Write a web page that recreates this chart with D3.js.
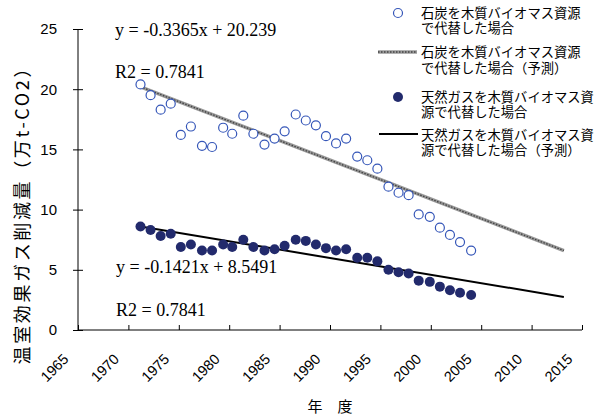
<!DOCTYPE html>
<html>
<head>
<meta charset="utf-8">
<script src="https://cdn.jsdelivr.net/npm/d3@7"></script>
<style>
  body { margin: 0; background: #fff; }
  svg { display: block; }
</style>
</head>
<body>
<script>
// years (points sit slightly off the integer ticks)
const years = [1971.2, 1972.2, 1973.2, 1974.2, 1975.2, 1976.2, 1977.3, 1978.3, 1979.4, 1980.3,
    1981.4, 1982.4, 1983.5, 1984.5, 1985.5, 1986.6, 1987.6, 1988.6, 1989.6, 1990.6,
    1991.6, 1992.7, 1993.7, 1994.7, 1995.8, 1996.8, 1997.8, 1998.8, 1999.9, 2000.9,
    2001.9, 2002.9, 2004.0];
const coal = [20.4, 19.5, 18.3, 18.8, 16.2, 16.9, 15.3, 15.2, 16.8, 16.3,
    17.8, 16.3, 15.4, 15.9, 16.5, 17.9, 17.4, 17.0, 16.1, 15.5,
    15.9, 14.4, 14.1, 13.4, 11.9, 11.4, 11.2, 9.6, 9.4, 8.5,
    7.9, 7.3, 6.6];
const gas = [8.6, 8.3, 7.8, 8.0, 6.9, 7.1, 6.6, 6.6, 7.1, 6.9,
    7.5, 6.9, 6.6, 6.7, 7.0, 7.5, 7.4, 7.1, 6.8, 6.6,
    6.7, 6.0, 6.0, 5.7, 5.0, 4.8, 4.7, 4.1, 4.0, 3.6,
    3.3, 3.1, 2.9];

// prediction lines (end points)
const trendYears = [1971.2, 2013.2];
const coalTrend = [20.2, 6.6];
const gasTrend = [8.6, 2.75];

const xTicks = [1965, 1970, 1975, 1980, 1985, 1990, 1995, 2000, 2005, 2010, 2015];
const yTicks = [0, 5, 10, 15, 20, 25];

const legendLabels = [
    ['石炭を木質バイオマス資源', 'で代替した場合'],
    ['石炭を木質バイオマス資源', 'で代替した場合（予測）'],
    ['天然ガスを木質バイオマス資', '源で代替した場合'],
    ['天然ガスを木質バイオマス資', '源で代替した場合（予測）']
];
const equations = ['y = -0.3365x + 20.239', 'R2 = 0.7841', 'y = -0.1421x + 8.5491', 'R2 = 0.7841'];

const width = 596, height = 417;
const cjk = '"Noto Sans CJK JP", sans-serif';
const sans = '"Liberation Sans", Arial, sans-serif';
const serif = '"Liberation Serif", "Times New Roman", serif';

const svg = d3.select('body').append('svg')
    .attr('width', width)
    .attr('height', height);

const x = d3.scaleLinear().domain([1965, 2015]).range([78, 582]);
const y = d3.scaleLinear().domain([0, 25]).range([330, 29]);

// y axis, ticks cross the line
const yAxis = svg.append('g')
    .attr('transform', 'translate(' + x(1965) + ',0)')
    .call(d3.axisLeft(y).tickValues(yTicks).tickSize(5).tickPadding(16));
yAxis.select('.domain').remove();
yAxis.selectAll('.tick line').attr('x1', 5).attr('stroke', '#000');
yAxis.selectAll('.tick text')
    .attr('font-family', sans)
    .attr('font-size', '15px')
    .attr('fill', '#000');
svg.append('line')
    .attr('x1', x(1965)).attr('x2', x(1965))
    .attr('y1', y(25)).attr('y2', y(0))
    .attr('stroke', '#000');

// x axis, ticks pointing up
const xAxis = svg.append('g')
    .attr('transform', 'translate(0,' + y(0) + ')')
    .call(d3.axisBottom(x).tickValues(xTicks).tickFormat(d3.format('d')).tickSize(-5));
xAxis.select('.domain').remove();
xAxis.selectAll('.tick line').attr('stroke', '#000');
xAxis.selectAll('.tick text')
    .attr('font-family', sans)
    .attr('font-size', '14.5px')
    .attr('fill', '#000')
    .attr('text-anchor', 'end')
    .attr('dy', null)
    .attr('y', null)
    .attr('transform', 'translate(-9,30) rotate(-45)');
svg.append('line')
    .attr('x1', x(1965)).attr('x2', x(2015))
    .attr('y1', y(0)).attr('y2', y(0))
    .attr('stroke', '#000');

// axis titles
svg.append('text')
    .attr('x', 330).attr('y', 412)
    .attr('text-anchor', 'middle')
    .attr('font-family', cjk)
    .attr('font-size', '15px')
    .attr('fill', '#000')
    .text('年　度');

svg.append('text')
    .attr('transform', 'translate(29,212) rotate(-90)')
    .attr('text-anchor', 'middle')
    .attr('font-family', cjk)
    .attr('font-size', '18px')
    .attr('textLength', 305)
    .attr('lengthAdjust', 'spacing')
    .attr('fill', '#000')
    .text('温室効果ガス削減量（万t-CO2）');

// prediction lines
const line = d3.line()
    .x(function (d) { return x(d.year); })
    .y(function (d) { return y(d.value); });
const coalLine = trendYears.map(function (yr, i) { return {year: yr, value: coalTrend[i]}; });
const gasLine = trendYears.map(function (yr, i) { return {year: yr, value: gasTrend[i]}; });

svg.append('path').datum(coalLine)
    .attr('d', line).attr('fill', 'none')
    .attr('stroke', '#9a9a9a').attr('stroke-width', 3.5);
svg.append('path').datum(coalLine)
    .attr('d', line).attr('fill', 'none')
    .attr('stroke', '#444').attr('stroke-width', 1.4)
    .attr('stroke-dasharray', '1.5,1.5');
svg.append('path').datum(gasLine)
    .attr('d', line).attr('fill', 'none')
    .attr('stroke', '#000').attr('stroke-width', 2);

// points
const coalPts = years.map(function (yr, i) { return {year: yr, value: coal[i]}; });
const gasPts = years.map(function (yr, i) { return {year: yr, value: gas[i]}; });

svg.append('g').selectAll('circle')
    .data(coalPts).enter().append('circle')
    .attr('cx', function (d) { return x(d.year); })
    .attr('cy', function (d) { return y(d.value); })
    .attr('r', 4.5)
    .attr('fill', '#fff')
    .attr('stroke', '#3556b8')
    .attr('stroke-width', 1.2);

svg.append('g').selectAll('circle')
    .data(gasPts).enter().append('circle')
    .attr('cx', function (d) { return x(d.year); })
    .attr('cy', function (d) { return y(d.value); })
    .attr('r', 5)
    .attr('fill', '#222a6c');

// regression equations
const eqPos = [[115, 36], [115, 78], [116, 273], [116, 316]];
svg.append('g').selectAll('text')
    .data(equations).enter().append('text')
    .attr('x', function (d, i) { return eqPos[i][0]; })
    .attr('y', function (d, i) { return eqPos[i][1]; })
    .attr('font-family', serif)
    .attr('font-size', '18px')
    .attr('fill', '#000')
    .text(function (d) { return d; });

// legend
const rowY = [[13, 28], [52, 68], [97, 112], [135, 150]];
const legend = svg.append('g').attr('font-family', cjk).attr('font-size', '13.3px');
legendLabels.forEach(function (lines, i) {
    lines.forEach(function (t, j) {
        legend.append('text')
            .attr('x', 421)
            .attr('y', rowY[i][j])
            .attr('dy', '0.36em')
            .attr('textLength', t.length * 13.3)
            .attr('lengthAdjust', 'spacing')
            .attr('fill', '#000')
            .text(t);
    });
});
legend.append('circle').attr('cx', 398).attr('cy', rowY[0][0]).attr('r', 4.5)
    .attr('fill', '#fff').attr('stroke', '#3556b8').attr('stroke-width', 1.2);
legend.append('line').attr('x1', 378).attr('x2', 417).attr('y1', rowY[1][0]).attr('y2', rowY[1][0])
    .attr('stroke', '#9a9a9a').attr('stroke-width', 3.5);
legend.append('line').attr('x1', 378).attr('x2', 417).attr('y1', rowY[1][0]).attr('y2', rowY[1][0])
    .attr('stroke', '#444').attr('stroke-width', 1.4).attr('stroke-dasharray', '1.5,1.5');
legend.append('circle').attr('cx', 398).attr('cy', rowY[2][0]).attr('r', 5)
    .attr('fill', '#222a6c');
legend.append('line').attr('x1', 379).attr('x2', 418).attr('y1', rowY[3][0] - 1).attr('y2', rowY[3][0] - 1)
    .attr('stroke', '#000').attr('stroke-width', 2);
</script>
</body>
</html>
